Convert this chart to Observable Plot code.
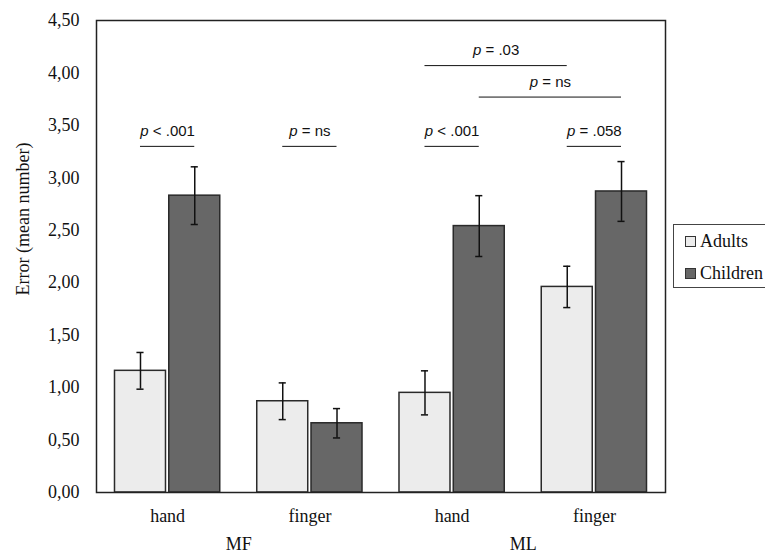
<!DOCTYPE html>
<html>
<head>
<meta charset="utf-8">
<script src="https://cdn.jsdelivr.net/npm/d3@7"></script>
<script src="https://cdn.jsdelivr.net/npm/@observablehq/plot@0.6"></script>
<style>
  html, body { margin: 0; padding: 0; background: #fff; overflow: hidden; }
  #wrap { position: relative; width: 765px; height: 557px; }
  #legend {
    position: absolute; left: 673px; top: 224px; width: 110px; height: 64px;
    border: 1px solid #444; box-sizing: border-box;
    font-family: "Liberation Serif", "Times New Roman", "DejaVu Serif", serif; font-size: 18px; color: #111;
  }
  .item { position: absolute; left: 11px; display: flex; align-items: center; white-space: nowrap; }
  .sw { width: 9px; height: 9px; border: 1px solid #333; margin-right: 4px; }
</style>
</head>
<body>
<div id="wrap"></div>
<script>
// ---- data ----
const conditions = ["hand", "finger", "hand", "finger"];
const devices = ["MF", "ML"];
const groups = ["Adults", "Children"];
const groupColors = ["#ececec", "#676767"];
const adultMeans = [1.16, 0.87, 0.95, 1.96];
const adultSE = [0.175, 0.175, 0.21, 0.197];
const childMeans = [2.83, 0.66, 2.54, 2.87];
const childSE = [0.275, 0.14, 0.29, 0.285];
const yTicks = [0, 0.5, 1, 1.5, 2, 2.5, 3, 3.5, 4, 4.5];
// significance brackets: [condition index, group] -> [condition index, group]
const bracketFrom = [[0, "Adults"], [1, "Adults"], [2, "Adults"], [3, "Adults"], [2, "Adults"], [2, "Children"]];
const bracketTo   = [[0, "Children"], [1, "Children"], [2, "Children"], [3, "Children"], [3, "Adults"], [3, "Children"]];
const bracketLevel = [3.30, 3.30, 3.30, 3.30, 4.07, 3.77];
const bracketLabel = ["< .001", "= ns", "< .001", "= .058", "= .03", "= ns"];

const serif = "Liberation Serif, Times New Roman, DejaVu Serif, serif";

// ---- layout helpers (in x-scale units: one unit per condition) ----
const barW = 0.3585, barGap = 0.023;
const center = (i, g) => i + 0.5 + (g === "Adults" ? -1 : 1) * (barGap / 2 + barW / 2);

const bars = [];
conditions.forEach((c, i) => {
  bars.push({i, group: "Adults", mean: adultMeans[i], se: adultSE[i]});
  bars.push({i, group: "Children", mean: childMeans[i], se: childSE[i]});
});
bars.forEach(b => {
  b.c = center(b.i, b.group);
  b.x1 = b.c - barW / 2;
  b.x2 = b.c + barW / 2;
});
const brackets = bracketLevel.map((lv, k) => {
  const a = center(...bracketFrom[k]), b = center(...bracketTo[k]);
  return {x1: a, x2: b, xm: (a + b) / 2, y: lv, label: "p " + bracketLabel[k]};
});
const deviceData = devices.map((d, j) => ({name: d, x: 2 * j + 1}));
const capHalf = 0.025;

const chart = Plot.plot({
  width: 765,
  height: 557,
  marginLeft: 96,
  marginRight: 100,
  marginTop: 20,
  marginBottom: 65,
  style: {fontFamily: serif, fontSize: "18px", color: "#111", background: "#fff"},
  x: {domain: [0, 4]},
  y: {domain: [0, 4.5]},
  color: {domain: groups, range: groupColors},
  marks: [
    Plot.rectY(bars, {x1: "x1", x2: "x2", y1: 0, y2: "mean", fill: "group", stroke: "#2a2a2a", strokeWidth: 1.5}),
    Plot.ruleX(bars, {x: "c", y1: d => d.mean - d.se, y2: d => d.mean + d.se, stroke: "#111", strokeWidth: 1.5}),
    Plot.ruleY(bars, {x1: d => d.c - capHalf, x2: d => d.c + capHalf, y: d => d.mean + d.se, stroke: "#111", strokeWidth: 1.5}),
    Plot.ruleY(bars, {x1: d => d.c - capHalf, x2: d => d.c + capHalf, y: d => d.mean - d.se, stroke: "#111", strokeWidth: 1.5}),
    Plot.ruleY(brackets, {x1: "x1", x2: "x2", y: "y", stroke: "#111", strokeWidth: 1}),
    Plot.text(brackets, {x: "xm", y: "y", text: "label", dy: -15, lineAnchor: "middle",
      fontFamily: "Liberation Sans, Arial, sans-serif", fontSize: 15, fill: "#111", className: "pval"}),
    Plot.frame({stroke: "#222", strokeWidth: 1.5}),
    Plot.axisY({ticks: yTicks, tickSize: 0, tickPadding: 17, tickFormat: d => d.toFixed(2).replace(".", ","), label: null, fontFamily: serif}),
    Plot.axisX({ticks: [0.5, 1.5, 2.5, 3.5], tickSize: 0, tickPadding: 17, tickFormat: d => conditions[Math.floor(d)], label: null, fontFamily: serif}),
    Plot.text(deviceData, {x: "x", text: "name", frameAnchor: "bottom", dy: 52, lineAnchor: "middle", fill: "#111", fontFamily: serif}),
    Plot.text(["Error (mean number)"], {frameAnchor: "left", rotate: -90, dx: -73, dy: 39, lineAnchor: "middle", fill: "#111", fontFamily: serif})
  ]
});

// italic "p" in the significance labels
d3.select(chart).selectAll("g.pval text").each(function () {
  const t = this.textContent;
  const rest = t.slice(1);
  this.textContent = "";
  d3.select(this).append("tspan").attr("font-style", "italic").text("p");
  d3.select(this).append("tspan").text(rest);
});

const wrap = document.getElementById("wrap");
wrap.appendChild(chart);

const legend = document.createElement("div");
legend.id = "legend";
groups.forEach((g, k) => {
  const item = document.createElement("div");
  item.className = "item";
  item.style.top = (k === 0 ? 6 : 38) + "px";
  const sw = document.createElement("div");
  sw.className = "sw";
  sw.style.background = groupColors[k];
  const label = document.createElement("span");
  label.textContent = g;
  item.appendChild(sw);
  item.appendChild(label);
  legend.appendChild(item);
});
wrap.appendChild(legend);
</script>
</body>
</html>
